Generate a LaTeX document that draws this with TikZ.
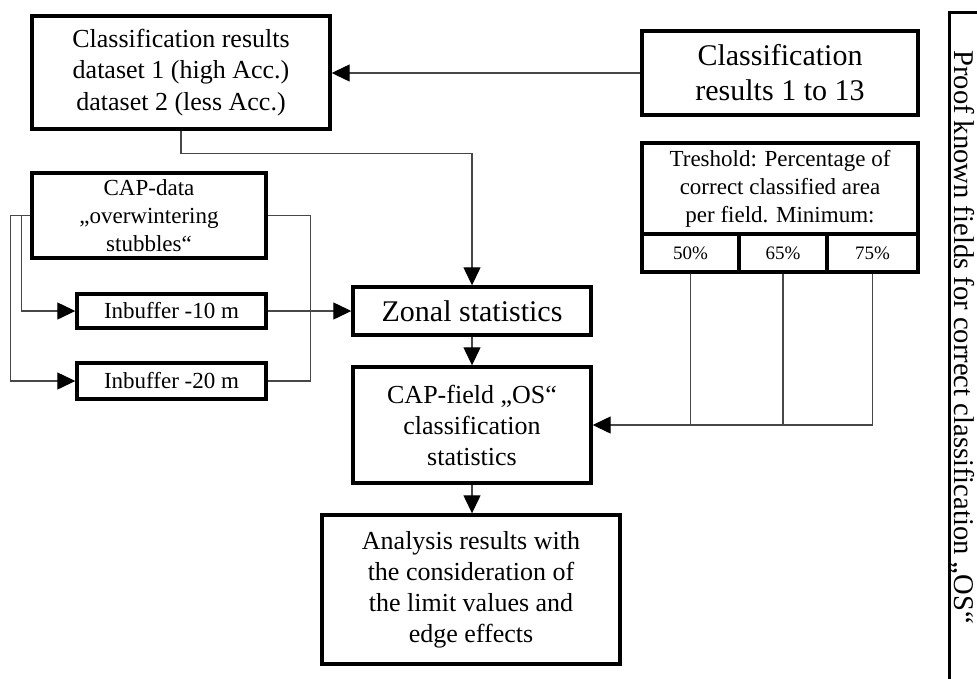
\documentclass[tikz,border=0pt]{standalone}
\usepackage{fontspec}
\setmainfont{Liberation Serif}
\usetikzlibrary{arrows.meta}
\newcommand\fsz[2]{\fontsize{#1}{#2}\selectfont}
\begin{document}
\begin{tikzpicture}[x=1pt,y=-1pt,
  box/.style={draw, line width=3.4pt, align=center, inner sep=0pt},
  conn/.style={line width=1.3pt, draw=black!72},
  arr/.style={conn, -{Triangle[length=18pt,width=17pt,color=black]}}]
\useasboundingbox (0,0) rectangle (977,678);
\clip (0,0) rectangle (977,678);

% input data
\node[box, minimum width=298pt, minimum height=113pt, font=\fsz{26}{31.5}] (res) at (181,72.5)
  {Classification results\\dataset 1 (high Acc.)\\dataset 2 (less Acc.)};
\node[box, minimum width=276pt, minimum height=84pt, font=\fsz{30}{35}] (all) at (780,73)
  {Classification\\results 1 to 13};
\node[box, minimum width=234pt, minimum height=85pt, font=\fsz{23}{28}] (cap) at (149,215.5)
  {CAP-data\\„overwintering\\stubbles“};

% threshold table
\node[box, minimum width=276pt, minimum height=91pt, font=\fsz{23}{28}] (thr) at (780,188.5)
  {Treshold: Percentage of\\correct classified area\\per field. Minimum:};
\node[box, minimum width=97pt, minimum height=38pt, font=\fsz{19}{22}] (p50) at (690.5,253) {50\%};
\node[box, minimum width=88pt, minimum height=38pt, font=\fsz{19}{22}] (p65) at (783,253) {65\%};
\node[box, minimum width=91pt, minimum height=38pt, font=\fsz{19}{22}] (p75) at (872.5,253) {75\%};

% buffers
\node[box, minimum width=189pt, minimum height=34pt, font=\fsz{23}{28}] (b10) at (171.5,311) {Inbuffer -10 m};
\node[box, minimum width=189pt, minimum height=36pt, font=\fsz{23}{28}] (b20) at (171.5,381) {Inbuffer -20 m};

% processing chain
\node[box, minimum width=238pt, minimum height=48pt, font=\fsz{30}{35}] (zon) at (472,311) {Zonal statistics};
\node[box, minimum width=238pt, minimum height=116pt, font=\fsz{26}{31}] (fld) at (472,425)
  {CAP-field „OS“\\classification\\statistics};
\node[box, minimum width=298pt, minimum height=149pt, font=\fsz{26}{31}] (ana) at (471,589.5)
  {Analysis results with\\the consideration of\\the limit values and\\edge effects};

% side frame
\node[box, minimum width=70pt, minimum height=720pt, anchor=north west] (side) at (948,11) {};
\node[rotate=-90, inner sep=0pt, font=\fsz{28.6}{34}] (sidetxt) at (962,337)
  {Proof known fields for correct classification „OS“};

% connectors
\draw[arr] (all.west) -- (all.west -| res.east);
\draw[arr] (res.south) -- ++(0,23) -| (zon.north);

\coordinate (capL1) at ([xshift=-9pt]cap.west);
\coordinate (capL2) at ([xshift=-20pt]cap.west);
\coordinate (capR) at ([xshift=43pt]cap.east);
\draw[conn] (cap.west) -- (capL2);
\draw[arr] (capL1) |- (b10.west);
\draw[arr] (capL2) |- (b20.west);
\draw[conn] (cap.east) -- (capR) |- (b20.east);

\draw[arr] (b10.east) -- (b10.east -| zon.west);
\draw[arr] (zon.south) -- (fld.north);
\draw[arr] (fld.south) -- (fld.south |- ana.north);

\draw[arr] (p75.south) |- (fld.east);
\draw[conn] (p50.south) -- (p50.south |- fld.east);
\draw[conn] (p65.south) -- (p65.south |- fld.east);
\end{tikzpicture}
\end{document}
